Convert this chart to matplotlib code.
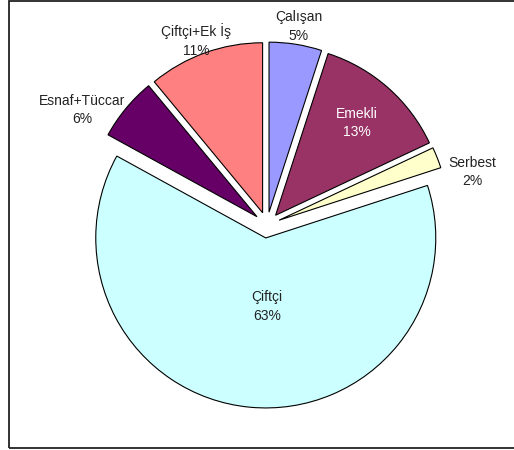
import numpy as np
import matplotlib.pyplot as plt
from matplotlib.patches import Rectangle

plt.rcParams['font.family'] = ['Liberation Sans', 'DejaVu Sans']

# Slices, clockwise from 12 o'clock
labels = ['Çalışan', 'Emekli', 'Serbest', 'Çiftçi', 'Esnaf+Tüccar', 'Çiftçi+Ek İş']
shares = [5, 13, 2, 63, 6, 11]
colors = ['#9999FF', '#993366', '#FFFFCC', '#CCFFFF', '#660066', '#FF8080']
text_colors = ['#222222', 'white', '#222222', '#222222', '#222222', '#222222']

# label radius (fraction of pie radius) and angular nudge in degrees
label_r = [1.18, 0.80, 1.245, 0.48, 1.28, 1.165]
label_nudge = [0, 0, -7.1, 5.4, 7.7, 1.2]

W, H = 514, 450
fig = plt.figure(figsize=(W / 100, H / 100), dpi=100)
ax = fig.add_axes([0, 0, 1, 1])

cx, cy, R = 267, 225, 170
# explode is in data units here (pie radius is in pixels)
wedges, _ = ax.pie(shares, colors=colors, startangle=90, counterclock=False,
                   explode=[13] * len(shares), radius=R, center=(cx, cy),
                   wedgeprops=dict(edgecolor='black', linewidth=0.8),
                   frame=True)
ax.set_xlim(0, W)
ax.set_ylim(0, H)
ax.set_aspect('equal')
ax.axis('off')

for w, lab, s, tc, lr, nd in zip(wedges, labels, shares, text_colors, label_r, label_nudge):
    a = np.deg2rad((w.theta1 + w.theta2) / 2 + nd)
    x = cx + lr * R * np.cos(a)
    y = cy + lr * R * np.sin(a)
    ax.text(x, y, f'{lab}\n{s}%', ha='center', va='center', fontsize=10,
            color=tc, linespacing=1.45)

# chart area border
fig.patches.append(Rectangle((9 / W, 2 / H), 1.2, 447 / H, transform=fig.transFigure,
                             fill=False, edgecolor='#222222', linewidth=1.3))

fig.savefig('out.png', dpi=100)
